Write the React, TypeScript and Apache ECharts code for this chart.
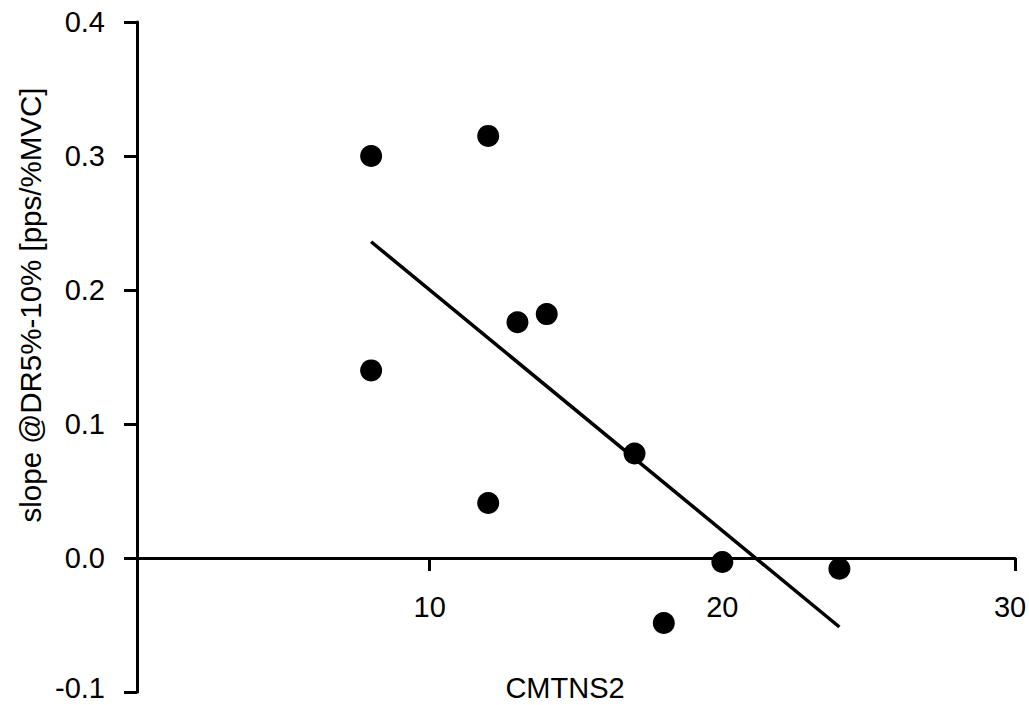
import React, { useEffect, useRef } from "react";
import * as echarts from "echarts";

// Scatter of slope vs CMTNS2 with a least-squares trend line
const cmtns2 = [8, 8, 12, 12, 13, 14, 17, 18, 20, 24];
const slope = [0.3, 0.14, 0.315, 0.041, 0.176, 0.182, 0.078, -0.0485, -0.003, -0.008];

// Trend line end points
const fitX = [8, 24];
const fitY = [0.236, -0.0515];

const xTicks = [10, 20, 30];
const yTicks = [-0.1, 0, 0.1, 0.2, 0.3, 0.4];

const xTitle = "CMTNS2";
const yTitle = "slope @DR5%-10% [pps/%MVC]";

const FONT = "Liberation Sans, Arial, Helvetica, sans-serif";

// Plot area in pixels; the x axis is drawn along y = 0, which sits
// one fifth of the plot height above the bottom edge (range -0.1 .. 0.4).
const GRID = { left: 137, right: 14, top: 22, bottom: 13 };
const PLOT_H = 705 - GRID.top - GRID.bottom;
const ZERO_OFFSET = -PLOT_H * (0.1 / 0.5);

export default function App() {
  const ref = useRef<HTMLDivElement>(null);

  useEffect(() => {
    if (!ref.current) return;
    const chart = echarts.init(ref.current, null, { renderer: "svg" });
    const axisLine = { lineStyle: { color: "#000", width: 3 } };
    const labelBase = { fontSize: 29, fontFamily: FONT, color: "#000" };
    chart.setOption({
      animation: false,
      backgroundColor: "#fff",
      grid: { ...GRID, containLabel: false, outerBoundsMode: "none" },
      xAxis: {
        type: "value",
        position: "bottom",
        offset: ZERO_OFFSET,
        min: 0,
        max: 30,
        interval: 10,
        axisLine: { ...axisLine, onZero: false },
        axisTick: {
          show: true,
          inside: false,
          length: 13,
          lineStyle: { color: "#000", width: 3 },
          customValues: xTicks,
        },
        axisLabel: {
          ...labelBase,
          customValues: xTicks,
          margin: 34,
          // keep the last label inside the right edge
          formatter: (v: number) => (v === 30 ? `{last|${v}}` : String(v)),
          rich: { last: { ...labelBase, padding: [0, 10, 0, 0] } },
        },
        splitLine: { show: false },
      },
      yAxis: {
        type: "value",
        min: -0.1,
        max: 0.4,
        interval: 0.1,
        axisLine: { ...axisLine, onZero: false },
        axisTick: {
          show: true,
          inside: false,
          length: 13,
          lineStyle: { color: "#000", width: 3 },
          customValues: yTicks,
        },
        axisLabel: {
          ...labelBase,
          customValues: yTicks,
          margin: 32,
          lineHeight: 24,
          // lift the bottom label so it stays inside the lower edge
          formatter: (v: number) =>
            v < 0 ? `{low|${v.toFixed(1)}}` : v.toFixed(1),
          rich: { low: { ...labelBase, lineHeight: 24, padding: [0, 0, 8, 0] } },
        },
        splitLine: { show: false },
      },
      graphic: [
        {
          type: "text",
          x: 565,
          y: 688,
          style: {
            text: xTitle,
            fill: "#000",
            font: `29px ${FONT}`,
            textAlign: "center",
            textVerticalAlign: "middle",
          },
        },
        {
          type: "text",
          x: 30,
          y: 305,
          rotation: Math.PI / 2,
          style: {
            text: yTitle,
            fill: "#000",
            font: `29.5px ${FONT}`,
            textAlign: "center",
            textVerticalAlign: "middle",
          },
        },
      ],
      series: [
        {
          type: "line",
          data: fitX.map((x, i) => [x, fitY[i]]),
          showSymbol: false,
          symbol: "none",
          lineStyle: { color: "#000", width: 3.5 },
          z: 3,
        },
        {
          type: "scatter",
          data: cmtns2.map((x, i) => [x, slope[i]]),
          symbol: "circle",
          symbolSize: 22,
          itemStyle: { color: "#000", opacity: 1 },
          z: 4,
        },
      ],
    });
    return () => chart.dispose();
  }, []);

  return (
    <div
      ref={ref}
      style={{ position: "fixed", left: 0, top: 0, width: 1029, height: 705 }}
    />
  );
}
